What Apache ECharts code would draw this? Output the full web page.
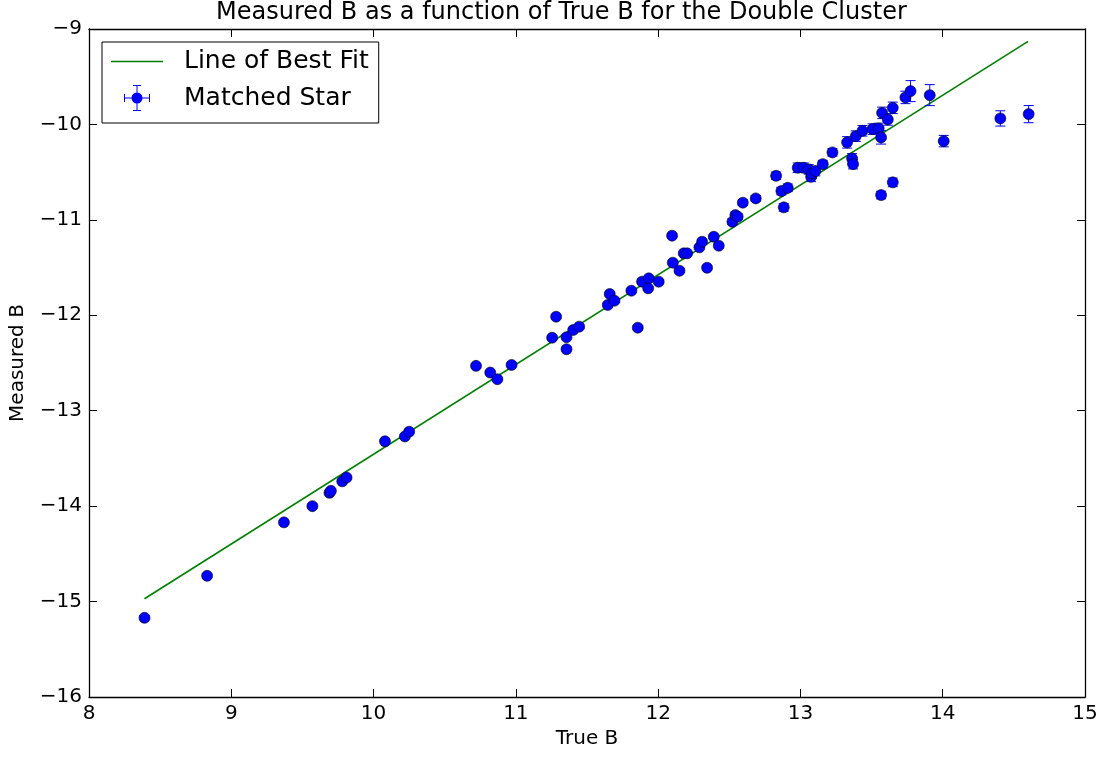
<!DOCTYPE html>
<html>
<head>
<meta charset="utf-8">
<title>Measured B vs True B</title>
<script src="https://cdn.jsdelivr.net/npm/echarts@6/dist/echarts.min.js"></script>
<style>
    html, body {margin: 0; padding: 0; background: #fff;}
    #chart {width: 1105px; height: 758px;}
</style>
</head>
<body>
<div id="chart"></div>
<script>
    // catalogue magnitude of each matched star
    var trueB = [8.39, 8.83, 9.37, 9.57, 9.69, 9.70, 9.78, 9.81, 10.08, 10.22,
        10.25, 10.72, 10.82, 10.87, 10.97, 11.255, 11.283, 11.356, 11.356, 11.403,
        11.445, 11.646, 11.66, 11.693, 11.812, 11.857, 11.887, 11.934, 11.93, 12.004,
        12.098, 12.103, 12.15, 12.18, 12.204, 12.29, 12.309, 12.344, 12.391, 12.426,
        12.522, 12.543, 12.559, 12.595, 12.686, 12.829, 12.866, 12.883, 12.911, 12.981,
        13.023, 13.058, 13.075, 13.082, 13.105, 13.157, 13.225, 13.328, 13.363, 13.37,
        13.389, 13.436, 13.507, 13.55, 13.567, 13.567, 13.574, 13.614, 13.649, 13.649,
        13.738, 13.774, 13.909, 14.007, 14.405, 14.604];
    // measured (instrumental) magnitude
    var measB = [-15.17, -14.73, -14.17, -14.0, -13.86, -13.84, -13.74, -13.70, -13.32, -13.27,
        -13.22, -12.53, -12.60, -12.67, -12.52, -12.235, -12.015, -12.23, -12.356, -12.154,
        -12.119, -11.892, -11.777, -11.847, -11.742, -12.13, -11.648, -11.613, -11.717, -11.648,
        -11.166, -11.449, -11.533, -11.351, -11.351, -11.288, -11.229, -11.502, -11.177, -11.271,
        -11.02, -10.95, -10.967, -10.82, -10.775, -10.538, -10.698, -10.869, -10.664, -10.454,
        -10.454, -10.471, -10.549, -10.513, -10.489, -10.416, -10.293, -10.188, -10.356, -10.416,
        -10.123, -10.067, -10.049, -10.042, -10.136, -10.74, -9.879, -9.948, -9.826, -10.607,
        -9.717, -9.651, -9.693, -10.175, -9.937, -9.892];
    // error on measured B
    var errB = [0.02, 0.02, 0.02, 0.02, 0.02, 0.02, 0.02, 0.02, 0.02, 0.02,
        0.02, 0.02, 0.02, 0.02, 0.02, 0.02, 0.02, 0.02, 0.02, 0.02,
        0.02, 0.02, 0.02, 0.02, 0.02, 0.02, 0.02, 0.02, 0.02, 0.02,
        0.02, 0.02, 0.02, 0.02, 0.02, 0.02, 0.02, 0.02, 0.02, 0.02,
        0.03, 0.03, 0.03, 0.03, 0.03, 0.04, 0.04, 0.04, 0.04, 0.05,
        0.05, 0.05, 0.05, 0.05, 0.05, 0.04, 0.04, 0.06, 0.05, 0.05,
        0.055, 0.055, 0.055, 0.055, 0.07, 0.04, 0.06, 0.06, 0.06, 0.045,
        0.065, 0.11, 0.11, 0.06, 0.08, 0.09];
    // line of best fit (end points)
    var fitX = [8.39, 14.60];
    var fitY = [-14.97, -9.13];
    // ticks
    var xTicks = [8, 9, 10, 11, 12, 13, 14, 15];
    var yTicks = [-16, -15, -14, -13, -12, -11, -10, -9];

    var FONT = 'DejaVu Sans';

    function minus(v) {
        return String(v).replace('-', '\u2212');
    }

    function frameAxis(pos, ticks, showLabel) {
        return {
            type: 'value',
            position: pos,
            min: ticks[0],
            max: ticks[ticks.length - 1],
            interval: 1,
            axisLine: {show: true, onZero: false, lineStyle: {color: '#000', width: 1.3}},
            axisTick: {show: true, inside: true, length: 8, lineStyle: {color: '#000', width: 1}},
            axisLabel: {show: showLabel, color: '#000', fontSize: 20, fontFamily: FONT, margin: 7, formatter: minus},
            splitLine: {show: false}
        };
    }

    var chart = echarts.init(document.getElementById('chart'));

    var xMain = frameAxis('bottom', xTicks, true);
    xMain.name = 'True B';
    xMain.nameLocation = 'middle';
    xMain.nameGap = 32;
    xMain.nameTextStyle = {color: '#000', fontSize: 20, fontFamily: FONT};
    var yMain = frameAxis('left', yTicks, true);
    yMain.name = 'Measured B';
    yMain.nameLocation = 'middle';
    yMain.nameGap = 61;
    yMain.nameTextStyle = {color: '#000', fontSize: 20, fontFamily: FONT};

    //图例图标：误差棒 + 圆点
    var starIcon = 'path://M0,12.5H26V13.5H0Z M0,9H1V17H0Z M25,9H26V17H25Z M12.5,0H13.5V26H12.5Z M9,0H17V1H9Z M9,25H17V26H9Z M18.5,13A5.5,5.5,0,1,1,7.5,13A5.5,5.5,0,1,1,18.5,13Z';
    var lineIcon = 'path://M0,0H52V1.6H0Z';

    var option = {
        backgroundColor: '#fff',
        animation: false,
        title: {
            text: 'Measured B as a function of True B for the Double Cluster',
            left: 216,
            top: 1,
            padding: 0,
            textStyle: {color: '#000', fontSize: 24, fontWeight: 'normal', fontFamily: FONT}
        },
        legend: {
            left: 102,
            top: 42,
            orient: 'vertical',
            selectedMode: false,
            backgroundColor: '#fff',
            borderColor: '#000',
            borderWidth: 1,
            borderRadius: 0,
            padding: [7, 10, 12, 9],
            itemWidth: 52,
            itemHeight: 26,
            itemGap: 11,
            textStyle: {color: '#000', fontSize: 25, fontFamily: FONT, padding: [0, 0, 0, 16]},
            data: [
                {name: 'Line of Best Fit', icon: lineIcon, itemStyle: {color: '#008000', borderWidth: 0}},
                {name: 'Matched Star', icon: starIcon, itemStyle: {color: '#0000ff', borderWidth: 0}}
            ]
        },
        grid: {left: 89, right: 20, top: 29, bottom: 61},
        xAxis: [xMain, frameAxis('top', xTicks, false)],
        yAxis: [yMain, frameAxis('right', yTicks, false)],
        series: [
            {
                name: 'Line of Best Fit',
                type: 'line',
                z: 1,
                symbol: 'none',
                color: '#008000',
                lineStyle: {color: '#008000', width: 1.6},
                data: fitX.map(function (x, i) { return [x, fitY[i]]; })
            },
            {
                name: 'errors',
                type: 'custom',
                z: 2,
                encode: {x: 0, y: 1},
                renderItem: function (params, api) {
                    var x = api.value(0), y = api.value(1), e = api.value(2);
                    var top = api.coord([x, y + e]);
                    var bot = api.coord([x, y - e]);
                    var cap = 5;
                    var style = {stroke: '#0000ff', lineWidth: 1};
                    return {
                        type: 'group',
                        children: [
                            {type: 'line', shape: {x1: top[0], y1: top[1], x2: bot[0], y2: bot[1]}, style: style},
                            {type: 'line', shape: {x1: top[0] - cap, y1: top[1], x2: top[0] + cap, y2: top[1]}, style: style},
                            {type: 'line', shape: {x1: bot[0] - cap, y1: bot[1], x2: bot[0] + cap, y2: bot[1]}, style: style}
                        ]
                    };
                },
                data: trueB.map(function (x, i) { return [x, measB[i], errB[i]]; })
            },
            {
                name: 'Matched Star',
                type: 'scatter',
                z: 3,
                symbol: 'circle',
                symbolSize: 11,
                itemStyle: {color: '#0000ff', borderColor: '#000', borderWidth: 0.6, opacity: 1},
                data: trueB.map(function (x, i) { return [x, measB[i]]; })
            }
        ]
    };

    chart.setOption(option);
</script>
</body>
</html>
